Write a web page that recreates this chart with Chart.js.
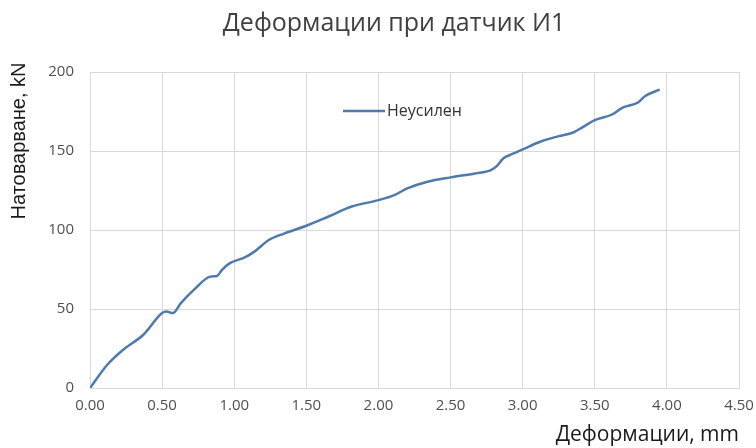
<!DOCTYPE html>
<html>
<head>
<meta charset="utf-8">
<script src="https://cdn.jsdelivr.net/npm/chart.js@4"></script>
<style>
  html, body { margin: 0; padding: 0; background: #fff; }
  #wrap { width: 756px; height: 448px; position: relative; }
</style>
</head>
<body>
<div id="wrap"><canvas id="chart"></canvas></div>
<script>
// deformation (mm) and load (kN)
const deformation = [0, 0.12, 0.23, 0.37, 0.50, 0.53, 0.575, 0.63, 0.72, 0.835, 0.88, 0.915, 0.97, 1.07, 1.14, 1.24, 1.35, 1.50, 1.65, 1.81, 2.00, 2.11, 2.20, 2.34, 2.50, 2.67, 2.78, 2.82, 2.865, 2.92, 3.00, 3.13, 3.25, 3.35, 3.42, 3.50, 3.62, 3.69, 3.80, 3.85, 3.95];
const load = [0, 14.7, 24.2, 33.7, 47.4, 48.4, 47.4, 53.7, 62.1, 70.5, 70.9, 74.7, 79.0, 82.5, 86.3, 93.7, 97.9, 102.7, 108.4, 114.7, 118.9, 122.1, 126.3, 130.5, 133.3, 135.8, 137.9, 140.4, 145.3, 147.8, 151.0, 156.2, 159.4, 161.7, 165.3, 169.5, 173.1, 177.3, 180.7, 184.8, 188.9];
const seriesName = 'Неусилен';
const chartTitle = 'Деформации при датчик И1';
const xTicks = [0, 0.5, 1, 1.5, 2, 2.5, 3, 3.5, 4, 4.5];
const yTicks = [0, 50, 100, 150, 200];

const FONT = '"Open Sans", "DejaVu Sans", sans-serif';
const TXT = '#505050';
const LINE = '#4f7aab';

// title, in-plot legend and y title are placed by hand, the way Excel left them
const extras = {
  id: 'extras',
  afterDraw(chart) {
    const ctx = chart.ctx;
    ctx.save();
    ctx.fillStyle = '#404040';
    ctx.font = '25px ' + FONT;
    ctx.textAlign = 'center';
    ctx.textBaseline = 'middle';
    ctx.fillText(chartTitle, 394, 24);

    const x = 343, y = 111;
    ctx.strokeStyle = LINE;
    ctx.lineWidth = 2.5;
    ctx.beginPath();
    ctx.moveTo(x, y);
    ctx.lineTo(x + 42, y);
    ctx.stroke();
    ctx.fillStyle = '#333';
    ctx.font = '16px ' + FONT;
    ctx.textAlign = 'left';
    ctx.fillText(seriesName, x + 44, y);

    ctx.translate(19, 141);
    ctx.rotate(-Math.PI / 2);
    ctx.textAlign = 'center';
    ctx.fillStyle = '#1a1a1a';
    ctx.font = '20px "Liberation Sans", Arial, sans-serif';
    ctx.fillText('Натоварване, kN', 0, 0);
    ctx.restore();
  }
};

const points = deformation.map((d, i) => ({ x: d, y: load[i] }));

new Chart(document.getElementById('chart'), {
  type: 'line',
  data: {
    datasets: [{
      label: seriesName,
      data: points,
      borderColor: LINE,
      borderWidth: 2.5,
      pointRadius: 0,
      cubicInterpolationMode: 'monotone',
      fill: false
    }]
  },
  options: {
    responsive: true,
    maintainAspectRatio: false,
    animation: false,
    layout: { padding: { left: 4, right: 5, top: 72, bottom: 0 } },
    plugins: {
      legend: { display: false },
      tooltip: { enabled: false },
      title: { display: false }
    },
    scales: {
      x: {
        type: 'linear',
        min: 0, max: 4.5,
        afterBuildTicks: s => { s.ticks = xTicks.map(v => ({ value: v })); },
        afterFit: s => { s.height = 60; s.paddingRight = 17; },
        ticks: {
          color: TXT,
          font: { family: FONT, size: 15 },
          padding: 9,
          maxRotation: 0,
          callback: v => v.toFixed(2)
        },
        grid: { color: '#d9d9d9', lineWidth: 1, drawTicks: false },
        border: { color: '#d9d9d9' },
        title: {
          display: true,
          text: 'Деформации, mm',
          align: 'end',
          color: '#1a1a1a',
          font: { family: FONT, size: 21 },
          padding: { top: 0, bottom: 0 }
        }
      },
      y: {
        min: 0, max: 200,
        afterBuildTicks: s => { s.ticks = yTicks.map(v => ({ value: v })); },
        afterFit: s => { s.width = 86; },
        ticks: {
          color: TXT,
          font: { family: FONT, size: 15 },
          padding: 16
        },
        grid: { color: '#d9d9d9', lineWidth: 1, drawTicks: false },
        border: { color: '#d9d9d9' },
        title: { display: false }
      }
    }
  },
  plugins: [extras]
});
</script>
</body>
</html>
